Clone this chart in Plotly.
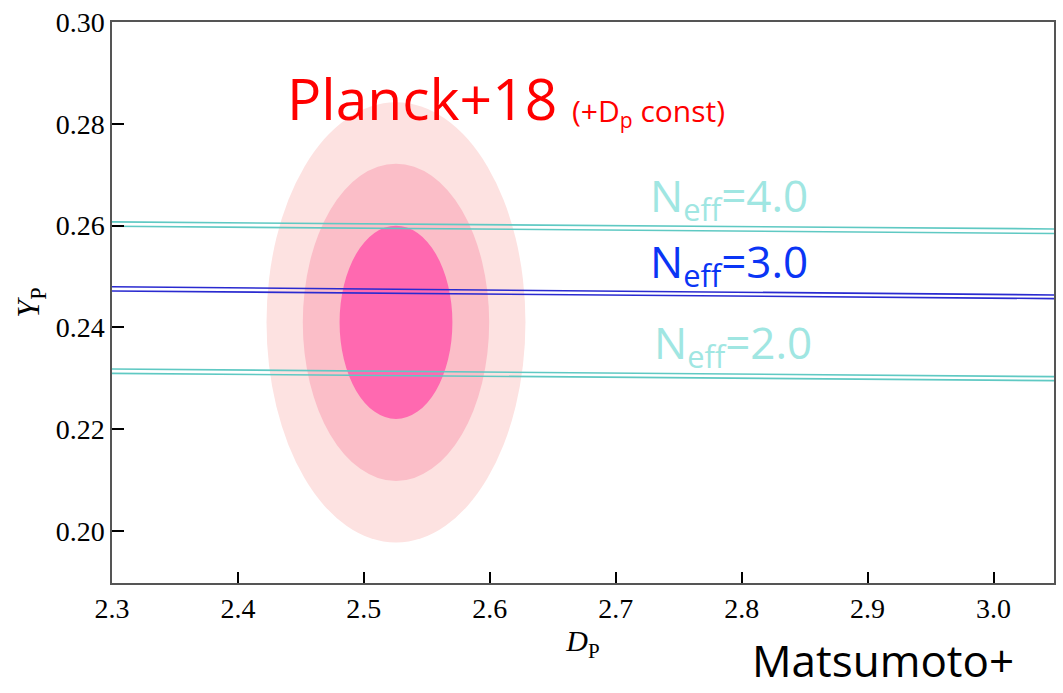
import plotly.graph_objects as go

# ---- data ----
dp_ends = [2.30, 3.048]
neff4_upper = [0.26073, 0.25935]
neff4_lower = [0.25988, 0.25845]
neff3_upper = [0.24800, 0.24638]
neff3_lower = [0.24716, 0.24566]
neff2_upper = [0.23184, 0.23033]
neff2_lower = [0.23098, 0.22955]

planck_center = [2.5255, 0.2410]          # (D_P, Y_P)
planck_semi_dp = [0.1028, 0.0740, 0.0448]  # 3, 2, 1 sigma half-widths
planck_semi_yp = [0.04325, 0.03115, 0.01898]
planck_colors = ["#fde2e1", "#fbbec8", "#ff69b0"]

x_ticks = [2.3, 2.4, 2.5, 2.6, 2.7, 2.8, 2.9, 3.0]
y_ticks = [0.20, 0.22, 0.24, 0.26, 0.28, 0.30]

teal = "#5fc9c3"
blue = "#2a2ad0"

fig = go.Figure()

shapes = []
for sx, sy, col in zip(planck_semi_dp, planck_semi_yp, planck_colors):
    shapes.append(dict(type="circle", xref="x", yref="y",
                       x0=planck_center[0] - sx, x1=planck_center[0] + sx,
                       y0=planck_center[1] - sy, y1=planck_center[1] + sy,
                       fillcolor=col, line=dict(width=0), layer="below"))

for ys, col in [(neff4_upper, teal), (neff4_lower, teal),
                (neff3_upper, blue), (neff3_lower, blue),
                (neff2_upper, teal), (neff2_lower, teal)]:
    fig.add_trace(go.Scatter(x=dp_ends, y=ys, mode="lines",
                             line=dict(color=col, width=1.6),
                             showlegend=False, hoverinfo="skip"))

ann_font = "Open Sans"
annotations = [
    dict(x=2.4372, y=0.28517, xref="x", yref="y", text="Planck+18",
         xanchor="left", yanchor="middle", showarrow=False,
         font=dict(family=ann_font, size=57, color="#ff0000")),
    dict(x=2.6640, y=0.28223, xref="x", yref="y", text="(+D<sub>p</sub> const)",
         xanchor="left", yanchor="middle", showarrow=False,
         font=dict(family=ann_font, size=30, color="#ff0000")),
    dict(x=2.7260, y=0.26556, xref="x", yref="y", text="N<sub>eff</sub>=4.0",
         xanchor="left", yanchor="middle", showarrow=False,
         font=dict(family=ann_font, size=44, color="#a0e6e2")),
    dict(x=2.7260, y=0.25254, xref="x", yref="y", text="N<sub>eff</sub>=3.0",
         xanchor="left", yanchor="middle", showarrow=False,
         font=dict(family=ann_font, size=44, color="#0a35f5")),
    dict(x=2.7286, y=0.23660, xref="x", yref="y", text="N<sub>eff</sub>=2.0",
         xanchor="left", yanchor="middle", showarrow=False,
         font=dict(family=ann_font, size=44, color="#a0e6e2")),
    dict(x=0.6777, y=-0.1945, xref="paper", yref="paper", text="Matsumoto+",
         xanchor="left", yanchor="bottom", showarrow=False,
         font=dict(family=ann_font, size=44, color="#000000")),
]

serif = "Liberation Serif"
fig.update_layout(
    width=1063, height=693,
    margin=dict(l=112, r=7, t=20, b=110),
    paper_bgcolor="white", plot_bgcolor="white",
    font=dict(family=serif, size=28, color="black"),
    shapes=shapes, annotations=annotations,
    xaxis=dict(range=[2.3, 3.048], tickvals=x_ticks, tickformat=".1f",
               ticks="inside", ticklen=11, tickwidth=2, tickcolor="black",
               showline=True, linecolor="#555555", linewidth=1.5, mirror=True,
               showgrid=False, zeroline=False,
               tickfont=dict(family=serif, size=28, color="black"),
               title=dict(text="<i>D</i><sub>P</sub>", standoff=4,
                          font=dict(family=serif, size=30, color="black"))),
    yaxis=dict(range=[0.1898, 0.30], tickvals=y_ticks, tickformat=".2f",
               ticks="inside", ticklen=12, tickwidth=2, tickcolor="black",
               showline=True, linecolor="#555555", linewidth=1.5, mirror=True,
               showgrid=False, zeroline=False,
               tickfont=dict(family=serif, size=28, color="black"),
               title=dict(text="<i>Y</i><sub>P</sub>", standoff=6,
                          font=dict(family=serif, size=32, color="black"))),
)

fig.write_html("out.html")
